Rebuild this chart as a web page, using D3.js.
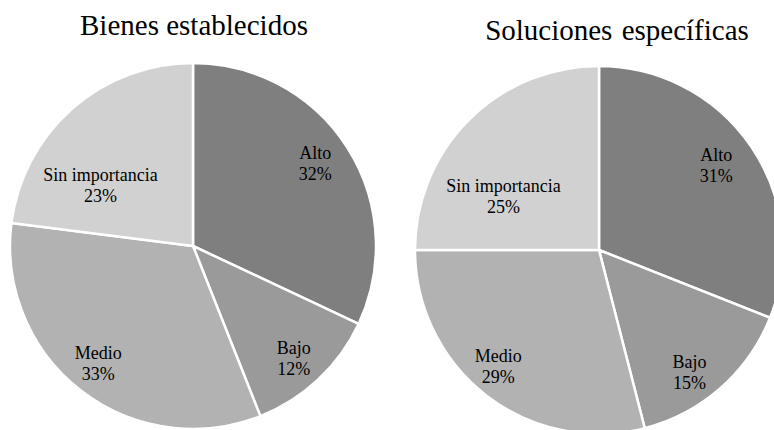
<!DOCTYPE html>
<html>
<head>
<meta charset="utf-8">
<script src="https://cdn.jsdelivr.net/npm/d3@7/dist/d3.min.js"></script>
<style>
  html, body { margin: 0; padding: 0; background: #fff; }
  svg { display: block; }
  text { font-family: "Liberation Serif", "Times New Roman", serif; fill: #000; }
</style>
</head>
<body>
<svg id="chart" width="774" height="430"></svg>
<script>
// Data
const categories = ["Alto", "Bajo", "Medio", "Sin importancia"];
const titles = ["Bienes establecidos", "Soluciones específicas"];
const valuesBienes = [32, 12, 33, 23];
const valuesSoluciones = [31, 15, 29, 25];
const colors = ["#7f7f7f", "#9a9a9a", "#b2b2b2", "#d1d1d1"];

// Layout (label placement: radius fraction, angle nudge in degrees)
const layout = [
  { cx: 193, cy: 246, r: 183, titleX: 194, titleY: 35, wordSpacing: 0,
    labelFrac: [0.81, 0.82, 0.82, 0.61], labelNudge: [-2, 1, 1.3, -14.6] },
  { cx: 599, cy: 250, r: 184, titleX: 617, titleY: 40, wordSpacing: 2,
    labelFrac: [0.79, 0.82, 0.83, 0.60], labelNudge: [-2, 4.5, 3.5, -14.9] }
];
const datasets = [valuesBienes, valuesSoluciones];

const svg = d3.select("#chart");
const pie = d3.pie().sort(null).value(d => d.value);
const color = d3.scaleOrdinal().domain(categories).range(colors);

datasets.forEach((vals, i) => {
  const L = layout[i];
  const data = categories.map((c, k) => ({ cat: c, value: vals[k], k }));
  const arcs = pie(data);
  const arc = d3.arc().innerRadius(0).outerRadius(L.r);
  const g = svg.append("g").attr("transform", `translate(${L.cx},${L.cy})`);

  g.selectAll("path").data(arcs).join("path")
    .attr("d", arc)
    .attr("fill", d => color(d.data.cat))
    .attr("stroke", "#fff")
    .attr("stroke-width", 2.5)
    .attr("stroke-linejoin", "round");

  const total = d3.sum(vals);
  const lbl = g.selectAll("g.lbl").data(arcs).join("g").attr("class", "lbl")
    .attr("transform", d => {
      const a = (d.startAngle + d.endAngle) / 2 + L.labelNudge[d.data.k] * Math.PI / 180;
      const rr = L.r * L.labelFrac[d.data.k];
      return `translate(${rr * Math.sin(a)},${-rr * Math.cos(a)})`;
    });
  lbl.append("text").attr("text-anchor", "middle").attr("y", -3)
    .style("font-size", "18px").text(d => d.data.cat);
  lbl.append("text").attr("text-anchor", "middle").attr("y", 18)
    .style("font-size", "18px").text(d => Math.round(d.data.value / total * 100) + "%");

  svg.append("text")
    .attr("x", L.titleX).attr("y", L.titleY)
    .attr("text-anchor", "middle")
    .style("font-size", "29px")
    .style("word-spacing", L.wordSpacing + "px")
    .text(titles[i]);
});
</script>
</body>
</html>
